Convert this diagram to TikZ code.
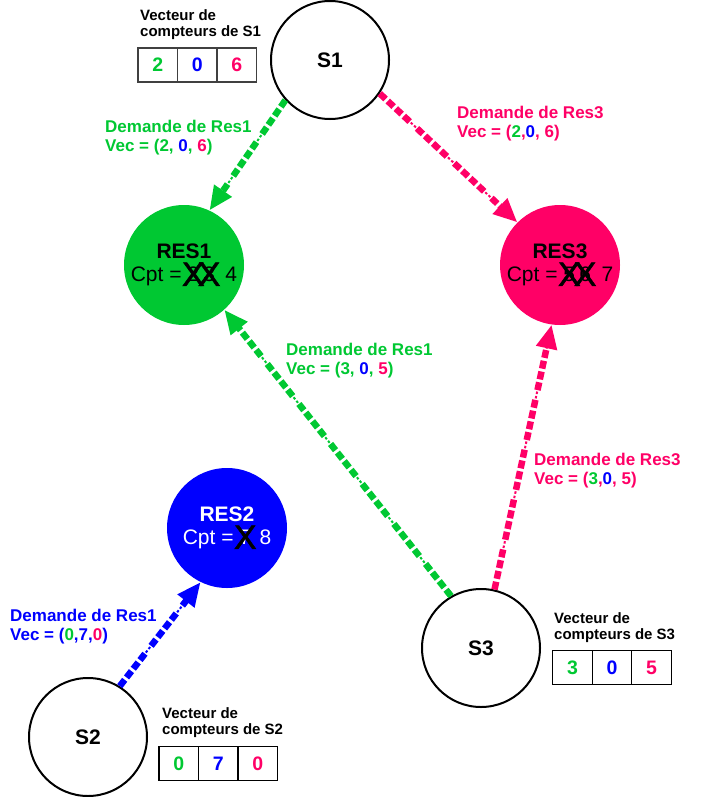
\documentclass[tikz,border=0pt]{standalone}
\usepackage{fontspec}
\setmainfont{Liberation Sans}
\usetikzlibrary{arrows.meta,positioning}
\definecolor{vert}{RGB}{0,200,50}
\definecolor{rose}{RGB}{255,0,102}
\definecolor{bleu}{RGB}{0,0,255}
\newcommand{\barrer}[1]{\setbox0\hbox{#1}#1\llap{\hbox to \wd0{\hss\raisebox{-4pt}{\color{black}\fontsize{34}{34}\selectfont\mdseries\addfontfeature{FakeBold=1.5}X}\hss}}}

\begin{document}
\begin{tikzpicture}[x=1pt,y=-1pt,
  site/.style={circle,draw,line width=2pt,minimum size=118pt,font=\fontsize{21}{21}\selectfont\bfseries},
  ressource/.style={circle,minimum size=120pt,inner sep=0pt,align=center,font=\fontsize{21}{23.5}\selectfont},
  demande/.style={anchor=north west,inner sep=0pt,align=left,font=\fontsize{17}{19.5}\selectfont\bfseries},
  titre/.style={anchor=north west,inner sep=0pt,align=left,font=\fontsize{15}{16}\selectfont\bfseries},
  case/.style={draw,line width=1.2pt,minimum width=39.5pt,minimum height=34pt,inner sep=0pt,outer sep=0pt,font=\fontsize{19.5}{19.5}\selectfont\bfseries},
  requete/.style={line width=6.5pt,dash pattern=on 8pt off 3pt on 8pt off 3pt on 8pt off 3pt on 8pt off 10pt,-{Triangle[length=24pt,width=20pt]},
    postaction={draw,-,line width=2pt,dash pattern=on 0pt off 42.5pt on 2.5pt off 2pt on 2.5pt off 1.5pt}}]
\useasboundingbox (0,0) rectangle (705,797);

% sites
\node[site] (s1) at (330,60) {S1};
\node[site] (s2) at (88,737) {S2};
\node[site] (s3) at (481,648) {S3};

% ressources
\node[ressource,fill=vert] (res1) at (184,265) {{\bfseries RES1}\\Cpt = \barrer{2}\hspace{0.2em}\barrer{3}\hspace{0.5em}4};
\node[ressource,fill=bleu,text=white] (res2) at (227,528) {{\bfseries RES2}\\Cpt = \barrer{7}\hspace{0.4em}8};
\node[ressource,fill=rose] (res3) at (560,265) {{\bfseries RES3}\\Cpt = \barrer{5}\hspace{0.2em}\barrer{6}\hspace{0.5em}7};

% vecteurs
\node[titre] (t1) at (140,9) {Vecteur de\\compteurs de S1};
\node[case,draw=black!75,text=vert] (v1a) at (157.8,65) {2};
\node[case,draw=black!75,text=bleu,right=0pt of v1a] (v1b) {0};
\node[case,draw=black!75,text=rose,right=0pt of v1b] (v1c) {6};

\node[titre] (t2) at (162,707) {Vecteur de\\compteurs de S2};
\node[case,text=vert] (v2a) at (178.7,763.5) {0};
\node[case,text=bleu,right=0pt of v2a] (v2b) {7};
\node[case,text=rose,right=0pt of v2b] (v2c) {0};

\node[titre] (t3) at (554,612) {Vecteur de\\compteurs de S3};
\node[case,text=vert] (v3a) at (572.5,667.5) {3};
\node[case,text=bleu,right=0pt of v3a] (v3b) {0};
\node[case,text=rose,right=0pt of v3b] (v3c) {5};

% requetes
\draw[requete,vert] (s1.222) -- (res1.65);
\draw[requete,rose] (s1.326) -- (res3.135);
\draw[requete,vert] (s3.120) -- (res1.312);
\draw[requete,rose] (s3.77) -- (res3.262);
\draw[requete,bleu] (s2.58) -- (res2.244);

\node[demande,text=vert] (d1) at (105,119.6) {Demande de Res1\\Vec = (2, \textcolor{bleu}{0}, \textcolor{rose}{6})};
\node[demande,text=rose] (d2) at (457,105.6) {Demande de Res3\\Vec = (\textcolor{vert}{2},\textcolor{bleu}{0}, 6)};
\node[demande,text=vert] (d3) at (286,342.6) {Demande de Res1\\Vec = (3, \textcolor{bleu}{0}, \textcolor{rose}{5})};
\node[demande,text=rose] (d4) at (534,452.6) {Demande de Res3\\Vec = (\textcolor{vert}{3},\textcolor{bleu}{0}, 5)};
\node[demande,text=bleu] (d5) at (10,608.6) {Demande de Res1\\Vec = (\textcolor{vert}{0},7,\textcolor{rose}{0})};
\end{tikzpicture}
\end{document}
